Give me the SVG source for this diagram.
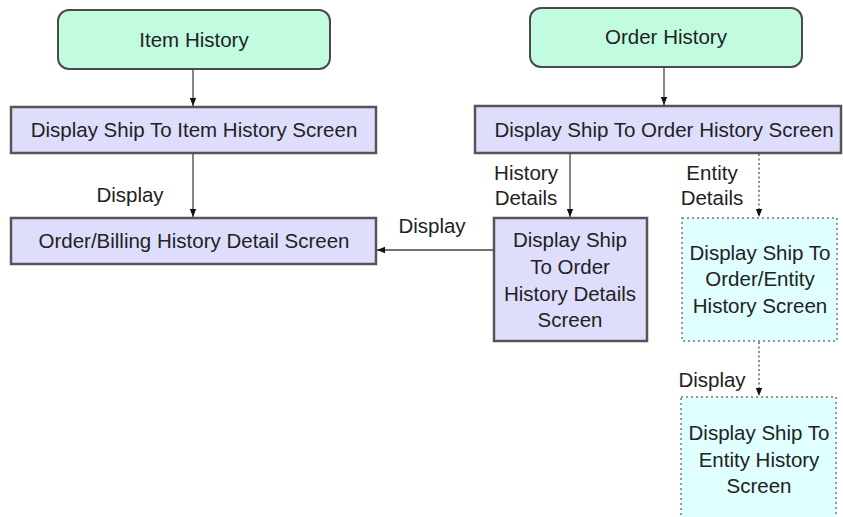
<svg xmlns="http://www.w3.org/2000/svg" width="843" height="517" viewBox="0 0 843 517">
  <style>
    text { font-family: "Liberation Sans", Arial, sans-serif; font-size: 20.5px; fill: #222; }
    .mid { text-anchor: middle; }
    .start { fill: #c2fce0; stroke: #4a4a4a; stroke-width: 2; }
    .screen { fill: #dedefc; stroke: #555; stroke-width: 2.5; }
    .entity { fill: #e0ffff; stroke: #777; stroke-width: 1.5; stroke-dasharray: 2 3; }
    .link { stroke: #444; stroke-width: 1.3; fill: none; marker-end: url(#arrow); }
    .dotted { stroke: #666; stroke-width: 1.5; stroke-dasharray: 2 2.5; fill: none; marker-end: url(#arrow); }
  </style>
  <defs>
    <marker id="arrow" viewBox="0 0 10 10" refX="10" refY="5" markerWidth="8" markerHeight="8" markerUnits="userSpaceOnUse" orient="auto">
      <path d="M0,1 L10,5 L0,9 Z" fill="#111"/>
    </marker>
  </defs>
  <rect width="843" height="517" fill="#fff"/>

  <!-- connectors -->
  <g id="connectors">
    <line class="link" x1="193" y1="70" x2="193" y2="106"/>
    <line class="link" x1="193" y1="154" x2="193" y2="217"/>
    <line class="link" x1="664" y1="67" x2="664" y2="105"/>
    <line class="link" x1="570" y1="154" x2="570" y2="217"/>
    <line class="link" x1="494" y1="250" x2="377" y2="250"/>
    <line class="dotted" x1="759" y1="154" x2="759" y2="217"/>
    <line class="dotted" x1="759" y1="342" x2="759" y2="396"/>
    <text class="mid" x="130" y="202">Display</text>
    <text class="mid" x="432" y="233">Display</text>
    <text class="mid" x="526" y="180">History</text>
    <text class="mid" x="526" y="205">Details</text>
    <text class="mid" x="712" y="180">Entity</text>
    <text class="mid" x="712" y="205">Details</text>
    <text class="mid" x="712" y="387">Display</text>
  </g>

  <g id="item-history">
    <rect class="start" x="58" y="10" width="272" height="59" rx="11"/>
    <text class="mid" x="194" y="47">Item History</text>
  </g>

  <g id="order-history">
    <rect class="start" x="530" y="8" width="272" height="59" rx="11"/>
    <text class="mid" x="666" y="44">Order History</text>
  </g>

  <g id="ship-to-item-history">
    <rect class="screen" x="11" y="107" width="365" height="46"/>
    <text class="mid" x="194" y="137">Display Ship To Item History Screen</text>
  </g>

  <g id="order-billing-detail">
    <rect class="screen" x="11" y="218" width="365" height="46"/>
    <text class="mid" x="194" y="248">Order/Billing History Detail Screen</text>
  </g>

  <g id="ship-to-order-history">
    <rect class="screen" x="475" y="106" width="366" height="47"/>
    <text class="mid" x="664" y="137">Display Ship To Order History Screen</text>
  </g>

  <g id="ship-to-order-history-details">
    <rect class="screen" x="494" y="218" width="153" height="123"/>
    <text class="mid" x="570" y="247">Display Ship</text>
    <text class="mid" x="570" y="274">To Order</text>
    <text class="mid" x="570" y="301">History Details</text>
    <text class="mid" x="570" y="327">Screen</text>
  </g>

  <g id="ship-to-order-entity-history">
    <rect class="entity" x="682" y="218" width="155" height="123"/>
    <text class="mid" x="760" y="260">Display Ship To</text>
    <text class="mid" x="760" y="286">Order/Entity</text>
    <text class="mid" x="760" y="313">History Screen</text>
  </g>

  <g id="ship-to-entity-history">
    <rect class="entity" x="681" y="397" width="155" height="124"/>
    <text class="mid" x="759" y="440">Display Ship To</text>
    <text class="mid" x="759" y="467">Entity History</text>
    <text class="mid" x="759" y="493">Screen</text>
  </g>
</svg>
